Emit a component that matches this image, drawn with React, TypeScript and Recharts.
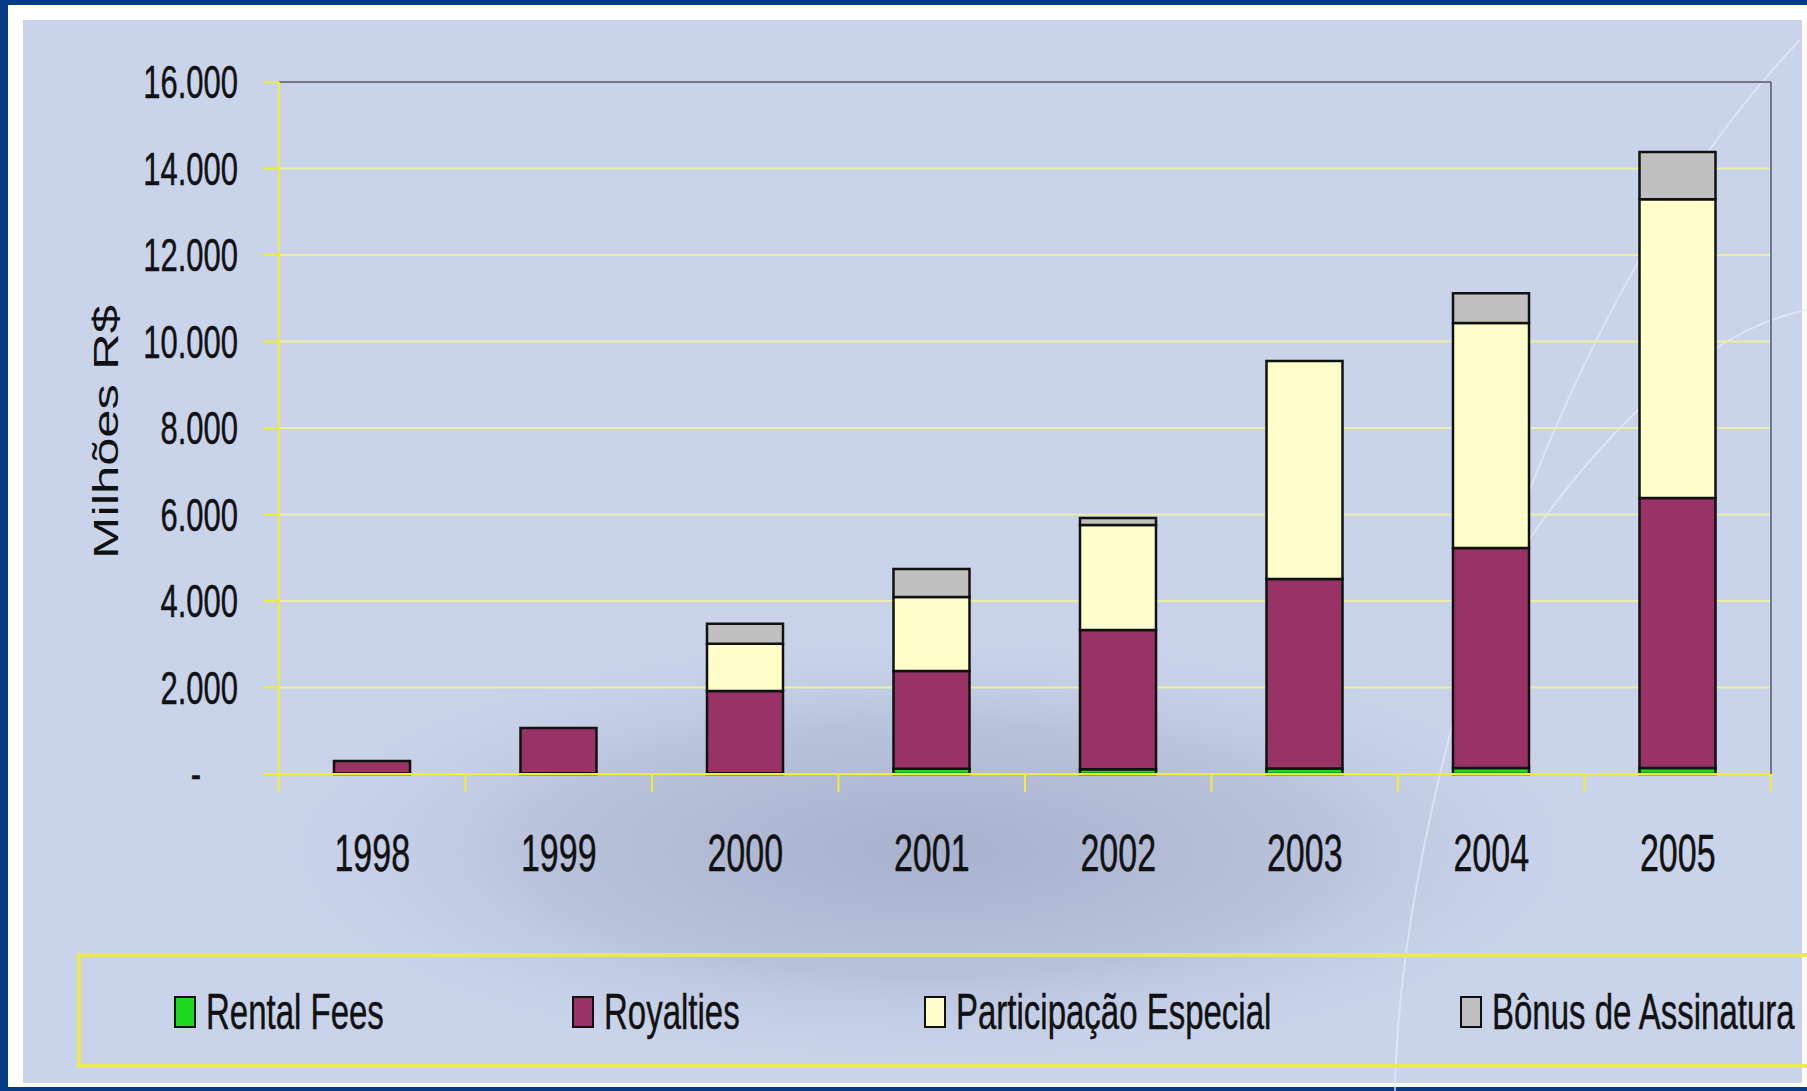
import { Bar, BarChart, CartesianGrid, ReferenceLine, XAxis, YAxis } from 'recharts';

const years = ['1998', '1999', '2000', '2001', '2002', '2003', '2004', '2005'];
const rentalFees = [10, 15, 20, 120, 110, 130, 140, 140];
const royalties = [290, 1050, 1900, 2260, 3220, 4380, 5085, 6240];
const participacaoEspecial = [0, 0, 1090, 1710, 2430, 5040, 5200, 6910];
const bonusAssinatura = [0, 0, 465, 650, 160, 0, 690, 1090];
const yTicks = [0, 2000, 4000, 6000, 8000, 10000, 12000, 14000, 16000];

const series = [
  { key: 'rental', name: 'Rental Fees', color: '#1ed81e' },
  { key: 'royalties', name: 'Royalties', color: '#993366' },
  { key: 'pe', name: 'Participação Especial', color: '#ffffcc' },
  { key: 'bonus', name: 'Bônus de Assinatura', color: '#c0c0c0' },
];

const data = years.map((year, i) => ({
  year,
  rental: rentalFees[i],
  royalties: royalties[i],
  pe: participacaoEspecial[i],
  bonus: bonusAssinatura[i],
}));

// layout of the plot area (page pixels)
const W = 1807;
const H = 1091;
const PLOT_LEFT = 279;
const PLOT_RIGHT = 1771;
const PLOT_TOP = 82;
const PLOT_BOTTOM = 774;
const BAND = (PLOT_RIGHT - PLOT_LEFT) / years.length;

const FONT = '"Liberation Sans", Arial, sans-serif';
const AXIS_YELLOW = '#eeee3a';
const GRID_YELLOW = '#eeeea6';
const BORDER_GRAY = '#747884';

// 16000 -> "16.000", 0 -> "-"
const fmt = (v: number) =>
  v === 0 ? '-' : String(v).replace(/\B(?=(\d{3})+(?!\d))/g, '.');

const YTick = (props: any) => {
  const { y, payload } = props;
  const zero = payload.value === 0;
  return (
    <g transform={`translate(${zero ? 201 : 238},${y})`}>
      <text
        textAnchor="end"
        dominantBaseline="central"
        transform="scale(1,1.5)"
        fontFamily={FONT}
        fontSize={31}
        fill="#111"
        stroke="#111"
        strokeWidth={0.3}
      >
        {fmt(payload.value)}
      </text>
    </g>
  );
};

const XTick = (props: any) => {
  const { x, payload, index } = props;
  const left = x - BAND / 2;
  const right = x + BAND / 2;
  const last = index === years.length - 1;
  return (
    <g>
      <line x1={left} x2={left} y1={PLOT_BOTTOM} y2={PLOT_BOTTOM + 18} stroke={AXIS_YELLOW} strokeWidth={2} />
      {last && (
        <>
          {/* right border of the plot area */}
          <line x1={right} x2={right} y1={PLOT_TOP} y2={PLOT_BOTTOM} stroke={BORDER_GRAY} strokeWidth={2} />
          <line x1={right} x2={right} y1={PLOT_BOTTOM} y2={PLOT_BOTTOM + 18} stroke={AXIS_YELLOW} strokeWidth={2} />
        </>
      )}
      <g transform={`translate(${x},853)`}>
        <text
          textAnchor="middle"
          dominantBaseline="central"
          transform="scale(1,1.5)"
          fontFamily={FONT}
          fontSize={34}
          fill="#111"
          stroke="#111"
          strokeWidth={0.3}
        >
          {payload.value}
        </text>
      </g>
    </g>
  );
};

const legendX = [175, 573, 925, 1461];

const Legend = () => (
  <svg width={W} height={H} style={{ position: 'absolute', left: 0, top: 0 }}>
    <rect x={79} y={955} width={1740} height={111} fill="none" stroke="#eaea50" strokeWidth={4} />
    {series.map((s, i) => (
      <g key={s.key}>
        <rect x={legendX[i]} y={997} width={20} height={30} fill={s.color} stroke="#111" strokeWidth={2} />
        <g transform={`translate(${legendX[i] + 31},1012)`}>
          <text
            dominantBaseline="central"
            transform="scale(1,1.5)"
            fontFamily={FONT}
            fontSize={33}
            fill="#111"
            stroke="#111"
            strokeWidth={0.3}
          >
            {s.name}
          </text>
        </g>
      </g>
    ))}
  </svg>
);

const Background = () => (
  <svg width={W} height={H} style={{ position: 'absolute', left: 0, top: 0 }}>
    <defs>
      <radialGradient id="drop" cx="0.5" cy="0.5" r="0.5">
        <stop offset="0" stopColor="#a8b2cd" />
        <stop offset="0.55" stopColor="#b8c2db" />
        <stop offset="1" stopColor="#c9d3ea" stopOpacity={0} />
      </radialGradient>
    </defs>
    <rect x={0} y={0} width={W} height={H} fill="#053b86" />
    <rect x={8} y={5} width={W - 8} height={H - 9} fill="#ffffff" />
    <rect x={23} y={20} width={1779} height={1063} fill="#c9d3ea" />
    <ellipse cx={930} cy={850} rx={700} ry={230} fill="url(#drop)" />
    <path d="M1395 1091 C1400 800 1550 300 1800 40" fill="none" stroke="#e6ecf7" strokeWidth={2} opacity={0.7} />
    <path d="M1490 600 C1580 450 1700 330 1807 310" fill="none" stroke="#e6ecf7" strokeWidth={2} opacity={0.7} />
  </svg>
);

export default function App() {
  return (
    <div style={{ position: 'absolute', left: 0, top: 0, width: W, height: H, overflow: 'hidden' }}>
      <Background />
      <div style={{ position: 'absolute', left: 0, top: 0 }}>
        <BarChart
          width={W}
          height={H}
          data={data}
          barSize={76}
          margin={{ top: PLOT_TOP, right: W - PLOT_RIGHT, left: PLOT_LEFT - 100, bottom: H - PLOT_BOTTOM - 100 }}
        >
          <CartesianGrid vertical={false} stroke={GRID_YELLOW} strokeWidth={2} />
          <XAxis
            dataKey="year"
            height={100}
            axisLine={{ stroke: AXIS_YELLOW, strokeWidth: 2 }}
            tickLine={false}
            tick={<XTick />}
            interval={0}
          />
          <YAxis
            width={100}
            domain={[0, 16000]}
            ticks={yTicks}
            interval={0}
            axisLine={{ stroke: AXIS_YELLOW, strokeWidth: 2 }}
            tickLine={{ stroke: AXIS_YELLOW, strokeWidth: 2 }}
            tickSize={16}
            tick={<YTick />}
            label={{
              value: 'Milhões R$',
              angle: -90,
              position: 'insideLeft',
              content: () => (
                <g transform="translate(106,432) rotate(-90)">
                  <text
                    textAnchor="middle"
                    dominantBaseline="central"
                    transform="scale(1.45,1)"
                    fontFamily={FONT}
                    fontSize={35}
                    fill="#111"
                  >
                    Milhões R$
                  </text>
                </g>
              ),
            }}
          />
          <ReferenceLine y={16000} stroke={BORDER_GRAY} strokeWidth={2} />
          {series.map((s) => (
            <Bar
              key={s.key}
              dataKey={s.key}
              name={s.name}
              stackId="a"
              fill={s.color}
              stroke="#111"
              strokeWidth={2.5}
              isAnimationActive={false}
            />
          ))}
        </BarChart>
      </div>
      <Legend />
    </div>
  );
}
